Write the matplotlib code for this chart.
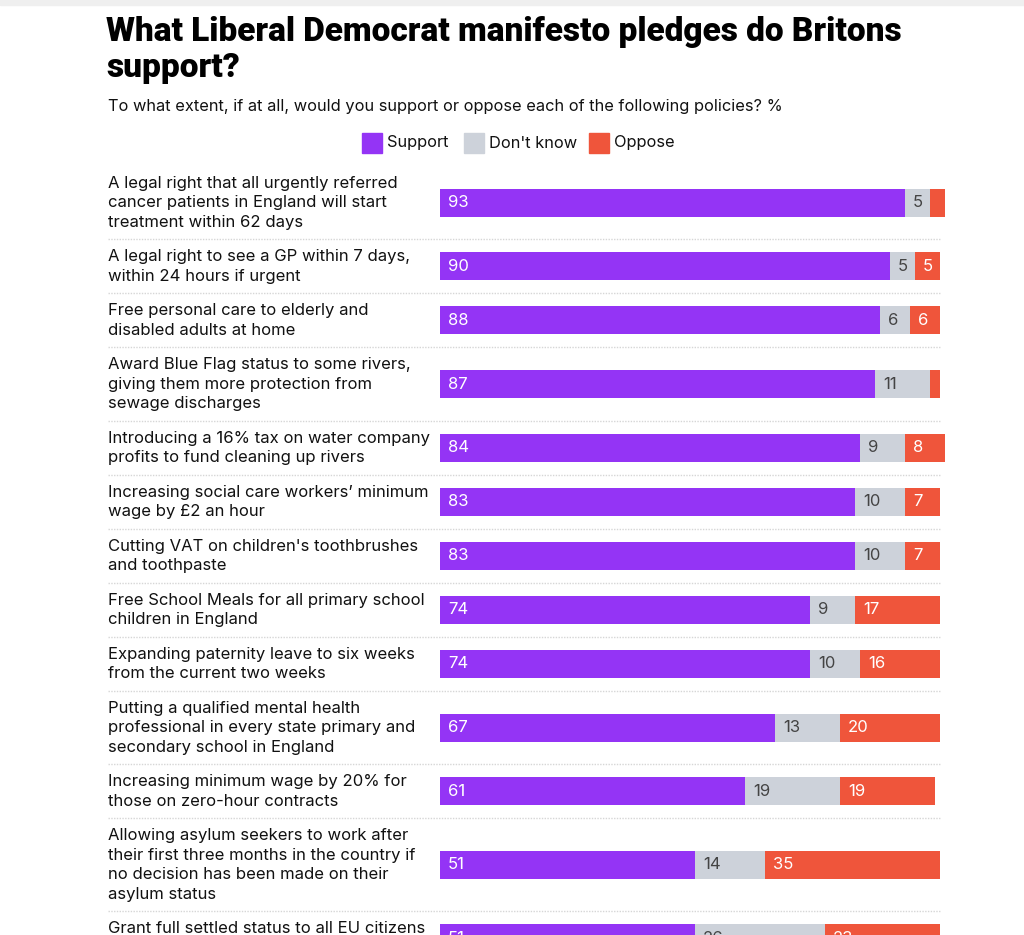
import matplotlib.pyplot as plt
from matplotlib.transforms import blended_transform_factory
from matplotlib.patches import Rectangle

# Data
policies = [
    "A legal right that all urgently referred\ncancer patients in England will start\ntreatment within 62 days",
    "A legal right to see a GP within 7 days,\nwithin 24 hours if urgent",
    "Free personal care to elderly and\ndisabled adults at home",
    "Award Blue Flag status to some rivers,\ngiving them more protection from\nsewage discharges",
    "Introducing a 16% tax on water company\nprofits to fund cleaning up rivers",
    "Increasing social care workers\u2019 minimum\nwage by \u00a32 an hour",
    "Cutting VAT on children's toothbrushes\nand toothpaste",
    "Free School Meals for all primary school\nchildren in England",
    "Expanding paternity leave to six weeks\nfrom the current two weeks",
    "Putting a qualified mental health\nprofessional in every state primary and\nsecondary school in England",
    "Increasing minimum wage by 20% for\nthose on zero-hour contracts",
    "Allowing asylum seekers to work after\ntheir first three months in the country if\nno decision has been made on their\nasylum status",
    "Grant full settled status to all EU citizens\nliving in the UK",
]
support = [93, 90, 88, 87, 84, 83, 83, 74, 74, 67, 61, 51, 51]
dont_know = [5, 5, 6, 11, 9, 10, 10, 9, 10, 13, 19, 14, 26]
oppose = [3, 5, 6, 2, 8, 7, 7, 17, 16, 20, 19, 35, 23]

series = [("Support", support, "#9434f5", "white"),
          ("Don't know", dont_know, "#cdd2da", "#444444"),
          ("Oppose", oppose, "#ef553b", "white")]

W, H = 1024, 935
FONT = "Inter"
FS = 12
fig = plt.figure(figsize=(W / 100, H / 100), dpi=100)

# browser strip at the very top
fig.patches.append(Rectangle((0, 1 - 5 / H), 1, 5 / H, transform=fig.transFigure,
                             color="#efefef", zorder=0))

fig.text(106 / W, 1 - 16 / H, "What Liberal Democrat manifesto pledges do Britons\nsupport?",
         fontsize=24, fontweight="black", family="Roboto", va="top", ha="left",
         linespacing=1.18)
fig.text(108 / W, 1 - 106 / H, "To what extent, if at all, would you support or oppose each of the following policies? %",
         fontsize=11.8, family=FONT, va="center", ha="left", color="#111111")

# legend
leg_x = [362, 464, 589]
for (name, _, col, _), lx in zip(series, leg_x):
    fig.patches.append(Rectangle((lx / W, 1 - 153 / H), 20 / W, 20 / H,
                                 transform=fig.transFigure, color=col))
    fig.text((lx + 25) / W, 1 - 143 / H, name, fontsize=11.8, family=FONT,
             va="center", ha="left", color="#111111")

# row layout from line counts (pixels)
top = 166
ax_left, ax_right = 440, 965
ax = fig.add_axes([ax_left / W, 0, (ax_right - ax_left) / W, (H - top) / H])
ax.set_xlim(0, 105)
ax.set_ylim(H, top)
ax.axis("off")

trans = blended_transform_factory(fig.transFigure, ax.transData)
y = top
centers, bottoms = [], []
for p in policies:
    n = p.count("\n") + 1
    h = 15 + 19.5 * n
    centers.append(y + h / 2)
    bottoms.append(y + h)
    y += h

left = [0] * len(policies)
for name, vals, col, tcol in series:
    ax.barh(centers, vals, left=left, height=28, color=col, edgecolor="none")
    for c, l, v in zip(centers, left, vals):
        if v >= 4:
            ax.text(l + 1.6, c, str(v), color=tcol, fontsize=FS, family=FONT,
                    va="center", ha="left")
    left = [a + b for a, b in zip(left, vals)]

for c, p in zip(centers, policies):
    ax.text(108 / W, c, p, transform=trans, fontsize=FS, family=FONT,
            va="center", ha="left", linespacing=1.37, color="#111111")

for b in bottoms[:-1]:
    ax.plot([108 / W, 940 / W], [b, b], transform=trans, color="#d6d6d6",
            lw=1, ls=(0, (1, 1)), clip_on=False)

fig.savefig("out.png", dpi=100)
